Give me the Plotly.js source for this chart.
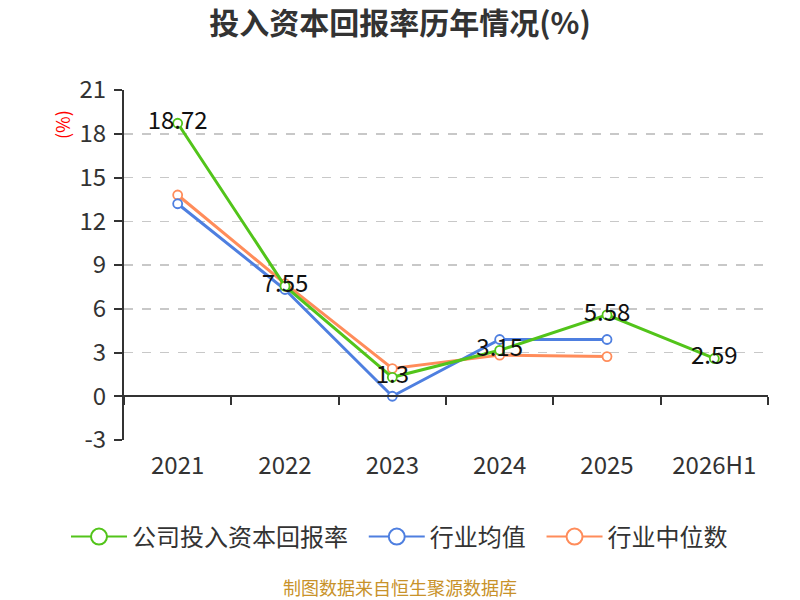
<!DOCTYPE html>
<html>
<head>
<meta charset="utf-8">
<script src="https://cdn.plot.ly/plotly-3.0.1.min.js"></script>
<style>
  html, body { margin: 0; padding: 0; background: #fff; }
  #chart { width: 800px; height: 600px; }
</style>
</head>
<body>
<div id="chart"></div>
<script>
const years = ['2021', '2022', '2023', '2024', '2025', '2026H1'];
const companyRoic = [18.72, 7.55, 1.3, 3.15, 5.58, 2.59];
const industryMean = [13.2, 7.32, 0.0, 3.89, 3.89];
const industryMedian = [13.8, 7.72, 1.9, 2.82, 2.72];
const yTicks = [-3, 0, 3, 6, 9, 12, 15, 18, 21];

const seriesNames = ['公司投入资本回报率', '行业均值', '行业中位数'];
const colors = ['#52c41a', '#4e7fe0', '#ff8c5a'];
const font = '"Noto Sans CJK SC", "Noto Sans", sans-serif';

function lineTrace(y, i, withText) {
  return {
    x: years.slice(0, y.length),
    y: y,
    type: 'scatter',
    mode: withText ? 'lines+markers+text' : 'lines+markers',
    name: seriesNames[i],
    showlegend: false,
    line: { color: colors[i], width: 3 },
    marker: { symbol: 'circle', size: 9, color: '#fff', line: { color: colors[i], width: 1.8 } },
    text: withText ? y.map(v => String(v)) : undefined,
    textposition: 'middle center',
    textfont: { family: font, size: 24, color: '#111' },
    cliponaxis: false,
  };
}

// legend-only entries so the legend symbols can be drawn larger;
// trailing no-break spaces widen the gap between entries
function legendTrace(i) {
  return {
    x: [null], y: [null],
    type: 'scatter',
    mode: 'lines+markers',
    name: seriesNames[i] + (i < 2 ? '\u00a0\u00a0' : ''),
    line: { color: colors[i], width: 2 },
    marker: { symbol: 'circle', size: 16, color: '#fff', line: { color: colors[i], width: 2 } },
  };
}

const traces = [
  lineTrace(industryMedian, 2, false),
  lineTrace(industryMean, 1, false),
  lineTrace(companyRoic, 0, true),
  legendTrace(0), legendTrace(1), legendTrace(2),
];

const layout = {
  width: 800,
  height: 600,
  margin: { l: 124, r: 32, t: 90, b: 160 },
  paper_bgcolor: '#fff',
  plot_bgcolor: '#fff',
  font: { family: font, color: '#333' },
  title: {
    text: '<b>投入资本回报率历年情况(%)</b>',
    font: { family: font, size: 30, color: '#333' },
    x: 0.5, xanchor: 'center',
    y: 1 - 23 / 600, yanchor: 'middle',
  },
  xaxis: {
    type: 'category',
    categoryorder: 'array',
    categoryarray: years,
    range: [-0.5, 5.5],
    anchor: 'free',
    position: 44 / 350,
    showline: true,
    linecolor: '#333',
    linewidth: 2,
    ticks: 'outside',
    tickson: 'boundaries',
    ticklen: 8,
    tickwidth: 2,
    tickcolor: '#333',
    showgrid: false,
    tickangle: 0,
    ticklabelstandoff: 48,
    tickfont: { family: font, size: 24, color: '#333' },
    fixedrange: true,
  },
  yaxis: {
    range: [-3, 21],
    tickvals: yTicks,
    ticktext: yTicks.map(v => String(v)),
    showline: true,
    linecolor: '#333',
    linewidth: 2,
    ticks: 'outside',
    ticklen: 8,
    tickwidth: 2,
    tickcolor: '#333',
    showgrid: true,
    gridcolor: '#c8c8c8',
    griddash: 'dash',
    gridwidth: 1.5,
    zeroline: false,
    ticklabelstandoff: 3,
    tickfont: { family: font, size: 24, color: '#333' },
    fixedrange: true,
  },
  legend: {
    orientation: 'h',
    x: (66 - 124) / 644, xanchor: 'left',
    y: -97 / 350, yanchor: 'middle',
    font: { family: font, size: 24, color: '#333' },
    itemwidth: 56,
  },
  annotations: [
    {
      text: '(%)',
      xref: 'paper', yref: 'paper',
      x: -62 / 644, y: (440 - 125) / 350,
      xanchor: 'center', yanchor: 'middle',
      textangle: -90,
      showarrow: false,
      font: { family: font, size: 18, color: '#ff0000' },
    },
    {
      text: '制图数据来自恒生聚源数据库',
      xref: 'paper', yref: 'paper',
      x: (400 - 124) / 644, y: -(587 - 440) / 350,
      xanchor: 'center', yanchor: 'middle',
      showarrow: false,
      font: { family: font, size: 18, color: '#c8922a' },
    },
  ],
};

Plotly.newPlot('chart', traces, layout, { displayModeBar: false, staticPlot: true });
</script>
</body>
</html>
